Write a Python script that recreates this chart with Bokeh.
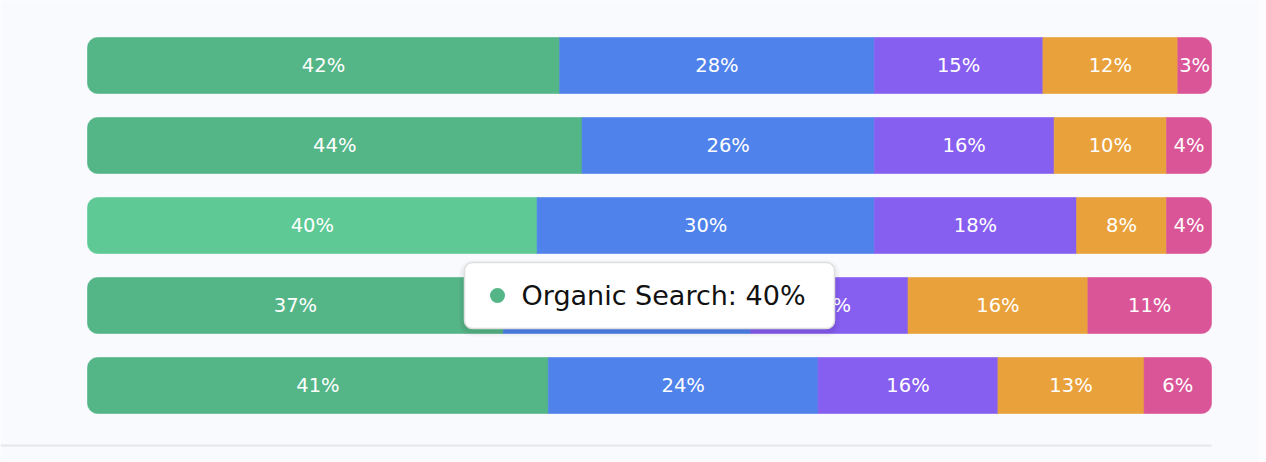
from bokeh.plotting import figure
from bokeh.models import Range1d, ColumnDataSource
from bokeh.core.properties import value
from bokeh.embed import file_html
from bokeh.resources import INLINE

rows = ["Row 1", "Row 2", "Row 3", "Row 4", "Row 5"]
series = ["Organic Search", "Paid Ads", "Social Media", "Email", "Referral"]
organic = [42, 44, 40, 37, 41]
paid = [28, 26, 30, 22, 24]
social = [15, 16, 18, 14, 16]
email = [12, 10, 8, 16, 13]
referral = [3, 4, 4, 11, 6]
colors = ["#54b687", "#4f82eb", "#875ff0", "#e9a23b", "#da5597"]
highlight_color = "#5ec994"
hover_row = 2
hover_series = 0

values = [organic, paid, social, email, referral]

FONT = "DejaVu Sans"
W, H = 1266, 462
px_per_unit_x = 11.24
left_px = 87
x0 = -left_px / px_per_unit_x
x1 = x0 + W / px_per_unit_x
row_px = 80
first_px = 65
y_top = -first_px / row_px
y_bot = (H - first_px) / row_px

p = figure(width=W, height=H, output_backend="svg", toolbar_location=None,
           x_range=Range1d(x0, x1), y_range=Range1d(y_bot, y_top),
           min_border=0, min_border_left=0, min_border_right=0,
           min_border_top=0, min_border_bottom=0)
p.axis.visible = False
p.grid.visible = False
p.outline_line_color = None
p.background_fill_color = "#fcfcfe"
p.border_fill_color = "#fcfcfe"

# card background
p.quad(left=x0, right=x0 + 1258 / px_per_unit_x, top=y_top, bottom=y_bot,
       fill_color="#f9fafd", line_color=None)

ys = list(range(len(rows)))
cum = [0] * len(rows)
R = 10
for j, vals in enumerate(values):
    lefts = cum[:]
    rights = [a + b for a, b in zip(cum, vals)]
    fills = [colors[j]] * len(rows)
    if j == hover_series:
        fills[hover_row] = highlight_color
    if j == 0:
        br = (R, 0, 0, R)
    elif j == len(values) - 1:
        br = (0, R, R, 0)
    else:
        br = 0
    src = ColumnDataSource(dict(y=ys, left=lefts, right=rights, fill=fills,
                                mid=[(a + b) / 2 for a, b in zip(lefts, rights)],
                                lab=[f"{v}%" for v in vals]))
    p.hbar(y="y", left="left", right="right", height=0.7, fill_color="fill",
           line_color="fill", line_width=0.6, border_radius=br, source=src)
    p.text(x="mid", y="y", text="lab", source=src, text_color="white",
           text_font=value(FONT), text_font_size="19.5px",
           text_align="center", text_baseline="middle")
    cum = rights

# bottom baseline
p.segment(x0=x0, x1=100, y0=(445 - first_px) / row_px, y1=(445 - first_px) / row_px,
          line_color="#e4e6ea", line_width=2)

# tooltip
tl = (464 - left_px) / px_per_unit_x
tr = (834 - left_px) / px_per_unit_x
tt = (262 - first_px) / row_px
tb = (328 - first_px) / row_px
for k in range(1, 7):
    dx = k * 1.0 / px_per_unit_x
    dy = k * 1.0 / row_px
    p.quad(left=tl - dx, right=tr + dx, top=tt - dy + 3 / row_px, bottom=tb + dy + 3 / row_px,
           fill_color="black", fill_alpha=0.01, line_color=None, border_radius=8 + k)
p.quad(left=tl, right=tr, top=tt, bottom=tb, fill_color="white",
       line_color="#dedede", line_width=1.5, border_radius=8)
tip_y = (tt + tb) / 2
p.scatter(x=[(497 - left_px) / px_per_unit_x], y=[tip_y], size=15,
          fill_color=colors[hover_series], line_color=None)
p.text(x=[(521 - left_px) / px_per_unit_x], y=[tip_y],
       text=[f"{series[hover_series]}: {values[hover_series][hover_row]}%"],
       text_color="#111111", text_font=value(FONT), text_font_size="27px",
       text_align="left", text_baseline="middle")

open("out.html", "w").write(file_html(p, INLINE))
